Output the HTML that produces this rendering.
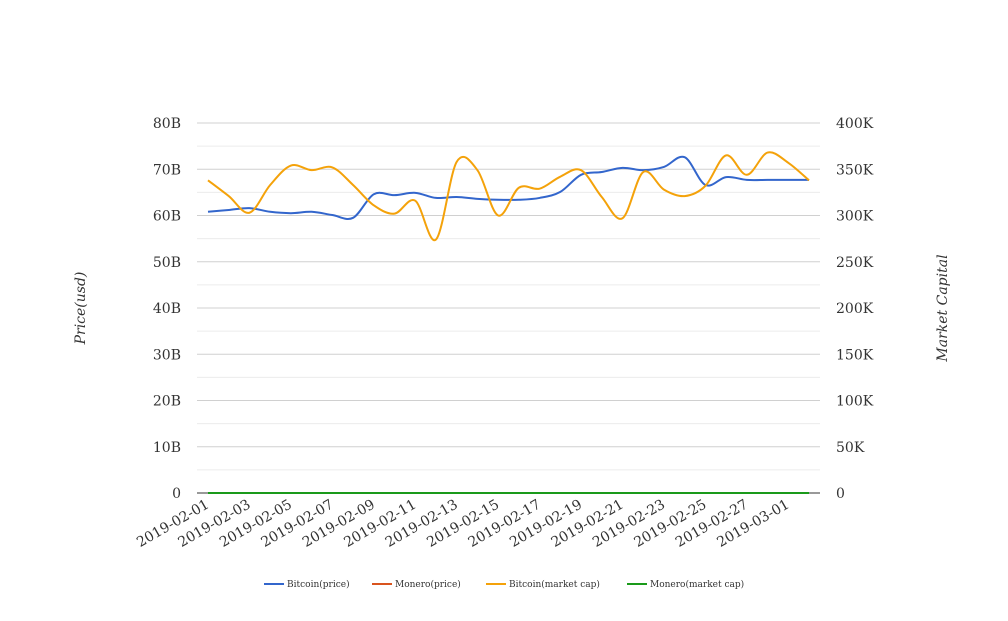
<!DOCTYPE html>
<html><head><meta charset="utf-8"><style>
body{margin:0;background:#fff;}
svg text{font-family:"DejaVu Serif","Liberation Serif",serif;fill:#333;}
</style></head><body>
<svg id="c" width="1008" height="616" xmlns="http://www.w3.org/2000/svg"></svg>
<script>
const dates=[];for(let d=1;d<=28;d++)dates.push('2019-02-'+String(d).padStart(2,'0'));dates.push('2019-03-01');dates.push('2019-03-02');
const btcPrice=[60.8,61.2,61.6,60.8,60.5,60.8,60.1,59.5,64.6,64.4,64.9,63.8,64.0,63.6,63.4,63.4,63.8,65.1,68.8,69.4,70.3,69.8,70.5,72.6,66.6,68.3,67.7,67.7,67.7,67.7];
const btcCap=[338,321,303,333,354,349,352,333,311,302,316,274,358,349,300,330,329,342,349,320,297,347,328,321,332,365,344,368,357,338];
const xmrPrice=dates.map(()=>0.001);
const xmrCap=dates.map(()=>0.01);
const leftTicks=['0','10B','20B','30B','40B','50B','60B','70B','80B'];
const rightTicks=['0','50K','100K','150K','200K','250K','300K','350K','400K'];
const svg=document.getElementById('c');const NS='http://www.w3.org/2000/svg';
function el(t,a,p){const e=document.createElementNS(NS,t);for(const k in a)e.setAttribute(k,a[k]);(p||svg).appendChild(e);return e;}
const x0=197,x1=820,yTop=123,yBot=493;
const xs=i=>208+i*(809-208)/(dates.length-1);
const yL=v=>yBot-v/80*(yBot-yTop);
const yR=v=>yBot-v/400*(yBot-yTop);
for(let i=0;i<=16;i++){const y=yBot-i*(yBot-yTop)/16;
 const g=el('line',{x1:x0,x2:x1,y1:y,y2:y,stroke:i%2?'#ececec':'#d0d0d0','stroke-width':1});
 }
el('line',{x1:x0,x2:x1,y1:yBot,y2:yBot,stroke:'#333','stroke-width':1});
leftTicks.forEach((t,i)=>{const e=el('text',{x:181,y:yBot-i*(yBot-yTop)/8+5,'text-anchor':'end','font-size':14});e.textContent=t;
 });
rightTicks.forEach((t,i)=>{const e=el('text',{x:836,y:yBot-i*(yBot-yTop)/8+5,'font-size':14});e.textContent=t;
 });
dates.forEach((d,i)=>{if(i%2)return;const x=xs(i);
 const e=el('text',{x:x+2,y:507,'text-anchor':'end','font-size':14,transform:`rotate(-30 ${x+2} 507)`});e.textContent=d;
 });
let t=el('text',{x:85,y:308,'text-anchor':'middle','font-size':14,'font-style':'italic',transform:'rotate(-90 85 308)'});t.textContent='Price(usd)';

t=el('text',{x:947,y:308,'text-anchor':'middle','font-size':14,'font-style':'italic',transform:'rotate(-90 947 308)'});t.textContent='Market Capital';

function smooth(pts){let d='M'+pts[0][0]+','+pts[0][1];for(let i=0;i<pts.length-1;i++){const p0=pts[i-1]||pts[i],p1=pts[i],p2=pts[i+1],p3=pts[i+2]||p2;
 d+=` C${p1[0]+(p2[0]-p0[0])/6},${p1[1]+(p2[1]-p0[1])/6} ${p2[0]-(p3[0]-p1[0])/6},${p2[1]-(p3[1]-p1[1])/6} ${p2[0]},${p2[1]}`;}return d;}
const series=[[xmrPrice,yL,'#d9541e','monero-price-line'],[xmrCap,yR,'#1a9a1a','monero-cap-line'],[btcPrice,yL,'#3366cc','bitcoin-price-line'],[btcCap,yR,'#f4a20a','bitcoin-cap-line']];
series.forEach(s=>{const p=el('path',{d:smooth(s[0].map((v,i)=>[xs(i),s[1](v)])),fill:'none',stroke:s[2],'stroke-width':2});
 });
const legend=[['Bitcoin(price)','#3366cc',264],['Monero(price)','#d9541e',372],['Bitcoin(market cap)','#f4a20a',486],['Monero(market cap)','#1a9a1a',627]];
legend.forEach(l=>{const g=el('g',{});
 el('line',{x1:l[2],x2:l[2]+20,y1:584,y2:584,stroke:l[1],'stroke-width':2},g);
 const tx=el('text',{x:l[2]+23,y:587,'font-size':9},g);tx.textContent=l[0];});
</script></body></html>
